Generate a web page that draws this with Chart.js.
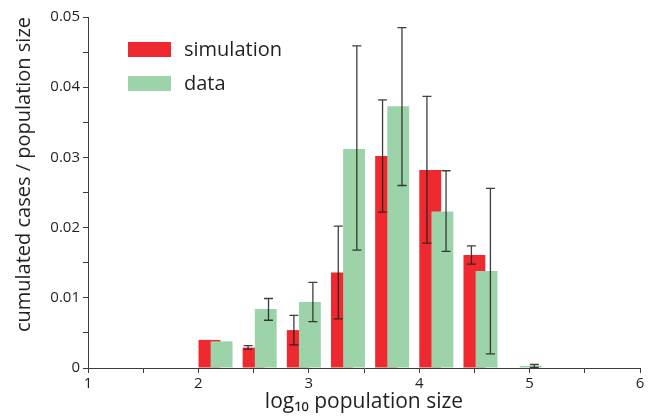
<!DOCTYPE html>
<html>
<head>
<meta charset="utf-8">
<script src="https://cdn.jsdelivr.net/npm/chart.js@4.4.1/dist/chart.umd.min.js"></script>
<style>
  html, body { margin: 0; padding: 0; background: #fff; }
  #wrap { width: 657px; height: 417px; }
</style>
</head>
<body>
<div id="wrap"><canvas id="chart"></canvas></div>
<script>
// log10 population size bins (bar centres) and values
const simX = [2.1, 2.5, 2.9, 3.3, 3.7, 4.1, 4.5];
const simValues = [0.0040, 0.0029, 0.0054, 0.0136, 0.0302, 0.0282, 0.0161];
const simErrX = [null, 2.45, 2.865, 3.267, 3.668, 4.07, 4.473];
const simLow = [null, 0.0027, 0.0033, 0.0070, 0.0222, 0.0178, 0.0148];
const simHigh = [null, 0.0032, 0.0075, 0.0202, 0.0382, 0.0387, 0.0174];

const dataX = [2.21, 2.61, 3.01, 3.41, 3.81, 4.21, 4.61, 5.01];
const dataValues = [0.0038, 0.0084, 0.0094, 0.0312, 0.0373, 0.0223, 0.0138, 0.0003];
const dataErrX = [null, 2.635, 3.037, 3.435, 3.844, 4.243, 4.645, 5.043];
const dataLow = [null, 0.0068, 0.0066, 0.0168, 0.0260, 0.0166, 0.0020, 0.0001];
const dataHigh = [null, 0.0099, 0.0122, 0.0459, 0.0485, 0.0281, 0.0256, 0.0005];

const xTickValues = [1, 2, 3, 4, 5, 6];
const xTickLabels = ['1', '2', '3', '4', '5', '6'];
const yTickValues = [0, 0.01, 0.02, 0.03, 0.04, 0.05];
const yTickLabels = ['0', '0.01', '0.02', '0.03', '0.04', '0.05'];

const RED = '#ee2a30';
const GREEN = '#9cd3a9';
const TEXT = '#231f20';
const AXIS = '#3c3c3c';
const FONT = "'Open Sans', sans-serif";

const toPoints = (xs, ys) => xs.map((x, i) => ({ x, y: ys[i] }));

const labelFor = (values, labels) => (v) => {
  const i = values.findIndex(t => Math.abs(t - v) < 1e-9);
  return i < 0 ? '' : labels[i];
};

// error bars drawn through the chart scales
const errorBars = {
  id: 'errorBars',
  afterDatasetsDraw(chart) {
    const { ctx, scales: { x, y } } = chart;
    const sets = [
      { xs: simErrX, lo: simLow, hi: simHigh },
      { xs: dataErrX, lo: dataLow, hi: dataHigh }
    ];
    ctx.save();
    ctx.strokeStyle = 'rgba(30, 28, 28, 0.85)';
    ctx.lineWidth = 1.3;
    sets.forEach(s => {
      s.xs.forEach((xv, i) => {
        if (xv === null) return;
        const px = x.getPixelForValue(xv);
        const top = y.getPixelForValue(s.hi[i]);
        const bot = y.getPixelForValue(s.lo[i]);
        ctx.beginPath();
        ctx.moveTo(px, top); ctx.lineTo(px, bot);
        ctx.moveTo(px - 4.5, top); ctx.lineTo(px + 4.5, top);
        ctx.moveTo(px - 4.5, bot); ctx.lineTo(px + 4.5, bot);
        ctx.stroke();
      });
    });
    ctx.restore();
  }
};

// legend inside the plot area, upper left
const insideLegend = {
  id: 'insideLegend',
  afterDraw(chart) {
    const { ctx, chartArea } = chart;
    const items = chart.data.datasets.slice().sort((a, b) => b.order - a.order);
    ctx.save();
    ctx.font = "20px " + FONT;
    ctx.textBaseline = 'middle';
    items.forEach((ds, i) => {
      const bx = chartArea.left + 40;
      const by = chartArea.top + 25 + i * 34;
      ctx.fillStyle = ds.backgroundColor;
      ctx.fillRect(bx, by, 43, 15);
      ctx.fillStyle = TEXT;
      ctx.fillText(ds.label, bx + 56, by + 8);
    });
    ctx.restore();
  }
};

new Chart(document.getElementById('chart'), {
  type: 'bar',
  data: {
    datasets: [
      {
        label: 'simulation',
        data: toPoints(simX, simValues),
        backgroundColor: RED,
        order: 2,
        grouped: false,
        categoryPercentage: 1,
        barPercentage: 1.8
      },
      {
        label: 'data',
        data: toPoints(dataX, dataValues),
        backgroundColor: GREEN,
        order: 1,
        grouped: false,
        categoryPercentage: 1,
        barPercentage: 1.8
      }
    ]
  },
  options: {
    responsive: true,
    maintainAspectRatio: false,
    animation: false,
    layout: { padding: { top: 17, right: 17, left: 0, bottom: 0 } },
    plugins: { legend: { display: false }, tooltip: { enabled: false } },
    scales: {
      x: {
        type: 'linear',
        min: 1,
        max: 6,
        offset: false,
        grid: { offset: false, drawOnChartArea: false, tickLength: 5, tickColor: AXIS },
        border: { color: AXIS, width: 1 },
        ticks: {
          stepSize: 0.5,
          autoSkip: false,
          maxRotation: 0,
          padding: 2,
          color: TEXT,
          font: { family: FONT, size: 15 },
          callback: labelFor(xTickValues, xTickLabels)
        },
        title: {
          display: true,
          text: 'log\u2081\u2080 population size',
          color: TEXT,
          font: { family: FONT, size: 21 },
          padding: { top: 0, bottom: 2 }
        },
        afterFit: s => { s.height = 49; }
      },
      y: {
        min: 0,
        max: 0.05,
        grid: { drawOnChartArea: false, tickLength: 5, tickColor: AXIS },
        border: { color: AXIS, width: 1 },
        ticks: {
          stepSize: 0.005,
          autoSkip: false,
          padding: 3,
          color: TEXT,
          font: { family: FONT, size: 15 },
          callback: labelFor(yTickValues, yTickLabels)
        },
        title: {
          display: true,
          text: 'cumulated cases / population size',
          align: 'end',
          color: TEXT,
          font: { family: FONT, size: 20 },
          padding: { top: 12, bottom: 0 }
        },
        afterFit: s => { s.width = 88; }
      }
    }
  },
  plugins: [errorBars, insideLegend]
});
</script>
</body>
</html>
